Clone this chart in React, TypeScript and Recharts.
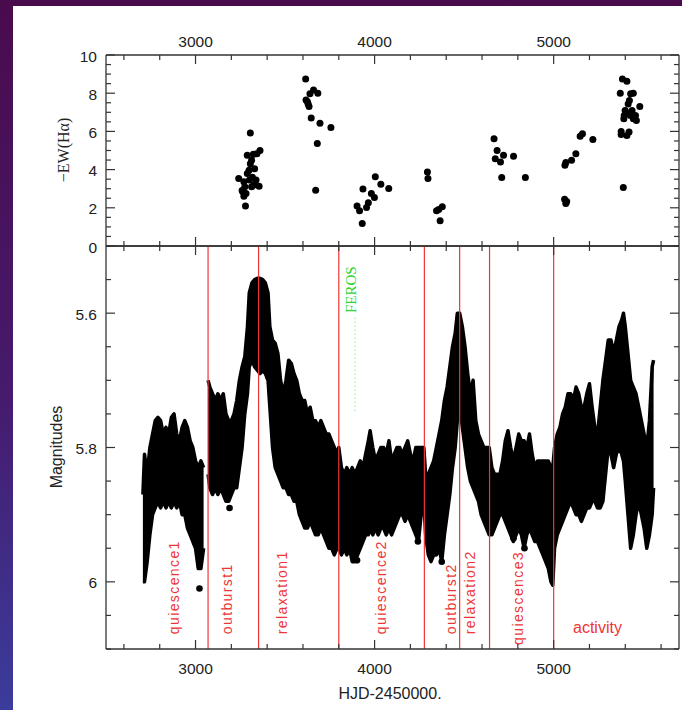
import { ComposedChart, Scatter, Area, XAxis, YAxis, ReferenceLine, ReferenceDot } from 'recharts'

// top panel: -EW(Halpha) measurements
const ewHjd = [
  3241, 3270, 3275, 3265, 3270, 3279, 3289, 3306, 3299, 3313, 3323, 3343, 3360, 3330, 3318, 3338,
  3326, 3313, 3355, 3289, 3301, 3282, 3260, 3306,
  3615, 3617, 3629, 3634, 3639, 3659, 3683, 3646, 3695, 3680, 3671, 3756, 3625,
  3902, 3916, 3931, 3935, 3955, 3965, 3982, 3999, 4004, 4035, 4079,
  4295, 4298, 4346, 4358, 4378, 4366,
  4667, 4684, 4674, 4703, 4720, 4710, 4776, 4842,
  5063, 5068, 5061, 5068, 5073, 5100, 5124, 5148, 5161, 5219,
  5389, 5372, 5384, 5409, 5377, 5377, 5409, 5421, 5394, 5399, 5409, 5428, 5445, 5430, 5445, 5423,
  5416, 5438, 5457, 5462, 5481, 5392,
]
const ewVal = [
  3.53, 3.36, 3.1, 2.83, 2.6, 2.09, 4.75, 5.91, 3.97, 4.49, 4.8, 4.83, 5.0, 4.05, 3.6, 3.45,
  3.2, 3.1, 3.13, 3.8, 3.45, 2.75, 2.9, 4.3,
  8.75, 7.65, 7.44, 7.3, 7.97, 8.17, 8.0, 6.7, 6.43, 5.36, 2.92, 6.2, 7.55,
  2.1, 1.84, 1.18, 2.99, 2.02, 2.26, 2.75, 2.54, 3.62, 3.23, 3.01,
  3.88, 3.53, 1.84, 1.91, 2.05, 1.32,
  5.62, 5.0, 4.57, 4.4, 4.75, 3.58, 4.7, 3.58,
  4.23, 4.37, 2.45, 2.23, 2.33, 4.49, 4.83, 5.74, 5.88, 5.57,
  3.06, 8.0, 8.75, 8.63, 6.0, 5.84, 5.79, 5.97, 6.83, 7.1, 6.96, 6.83, 6.66, 7.97, 8.0, 7.62,
  7.44, 7.1, 6.83, 6.57, 7.3, 6.66,
]

// bottom panel: light curve envelope (brightest / faintest magnitude at each date)
const lcHjd = [
  2706, 2715, 2730, 2745, 2760, 2775, 2790, 2805, 2820, 2835, 2850, 2865, 2880, 2895, 2910, 2925,
  2940, 2955, 2970, 2985, 3000, 3015, 3030, 3045, 3058,
  3070, 3080, 3095, 3110, 3125, 3140, 3155, 3170, 3185, 3200, 3215, 3230, 3245, 3260, 3275, 3290,
  3300, 3315, 3330, 3345, 3360, 3375, 3390, 3405, 3415, 3430, 3445, 3460, 3475, 3490, 3505, 3520,
  3535, 3550, 3565, 3580, 3595, 3610, 3625, 3640, 3655, 3670, 3685, 3700, 3715, 3730, 3745, 3760,
  3775, 3790,
  3800, 3815, 3830, 3845, 3860, 3875, 3890, 3905, 3920, 3935, 3950, 3965, 3975, 3990, 4005, 4020,
  4035, 4050, 4065, 4080, 4095, 4110, 4125, 4140, 4155, 4170, 4185, 4200, 4215, 4230, 4245, 4260,
  4275,
  4285, 4300, 4315, 4330, 4345, 4360, 4375, 4390, 4405, 4420, 4435, 4450, 4462, 4475,
  4490, 4505, 4520, 4535, 4550, 4565, 4580, 4595, 4610, 4625, 4640,
  4655, 4670, 4685, 4700, 4715, 4730, 4745, 4760, 4775, 4790, 4805, 4820, 4835, 4850, 4865, 4880,
  4895, 4910, 4925, 4940, 4955, 4970, 4985, 4995,
  5005, 5020, 5035, 5050, 5065, 5080, 5095, 5110, 5125, 5140, 5155, 5170, 5185, 5200, 5215, 5230,
  5245, 5260, 5275, 5290, 5305, 5320, 5335, 5350, 5365, 5380, 5390, 5400, 5415, 5430, 5445, 5460,
  5475, 5490, 5505, 5520, 5535, 5550, 5558,
]
const lcBright = [
  5.87, 5.81, 5.84, 5.80, 5.78, 5.76, 5.755, 5.76, 5.78, 5.77, 5.78, 5.755, 5.75, 5.78, 5.79, 5.77,
  5.76, 5.77, 5.79, 5.80, 5.82, 5.83, 5.82, 5.83, null,
  5.70, 5.71, 5.72, 5.73, 5.72, 5.73, 5.72, 5.75, 5.76, 5.76, 5.75, 5.73, 5.70, 5.68, 5.665, 5.62,
  5.57, 5.555, 5.55, 5.548, 5.548, 5.55, 5.555, 5.57, 5.62, 5.64, 5.645, 5.66, 5.70, 5.72, 5.70, 5.67,
  5.675, 5.69, 5.70, 5.72, 5.73, 5.73, 5.75, 5.74, 5.76, 5.76, 5.77, 5.76, 5.77, 5.78, 5.78, 5.79,
  5.80, 5.81,
  5.80, 5.83, 5.84, 5.83, 5.84, 5.83, 5.84, 5.83, 5.82, 5.83, 5.81, 5.79, 5.775, 5.80, 5.82, 5.81,
  5.80, 5.80, 5.81, 5.79, 5.82, 5.81, 5.80, 5.80, 5.81, 5.80, 5.79, 5.81, 5.82, 5.80, 5.80, 5.80,
  5.80,
  5.84, 5.84, 5.83, 5.82, 5.80, 5.78, 5.76, 5.73, 5.71, 5.68, 5.65, 5.63, 5.60, 5.60,
  5.62, 5.65, 5.69, 5.72, 5.70, 5.76, 5.78, 5.79, 5.80, 5.80, 5.80,
  5.83, 5.84, 5.84, 5.84, 5.82, 5.79, 5.775, 5.80, 5.82, 5.80, 5.78, 5.79, 5.79, 5.80, 5.78, 5.81,
  5.83, 5.82, 5.82, 5.82, 5.82, 5.82, 5.83, 5.83,
  5.80, 5.78, 5.77, 5.75, 5.74, 5.72, 5.72, 5.73, 5.71, 5.72, 5.74, 5.74, 5.72, 5.705, 5.74, 5.77,
  5.78, 5.74, 5.70, 5.67, 5.64, 5.64, 5.66, 5.64, 5.62, 5.61, 5.60, 5.62, 5.66, 5.70, 5.71, 5.72,
  5.74, 5.76, 5.78, 5.80, 5.76, 5.68, 5.67,
]
const lcFaint = [
  6.00, 6.00, 5.97, 5.93, 5.90, 5.89, 5.88, 5.89, 5.88, 5.89, 5.88, 5.89, 5.88, 5.89, 5.88, 5.90,
  5.90, 5.92, 5.93, 5.94, 5.95, 5.98, 5.98, 5.95, null,
  5.84, 5.86, 5.87, 5.86, 5.87, 5.86, 5.87, 5.88, 5.88, 5.87, 5.86, 5.86, 5.83, 5.80, 5.75, 5.72,
  5.68, 5.67, 5.68, 5.685, 5.69, 5.685, 5.69, 5.70, 5.74, 5.80, 5.83, 5.84, 5.85, 5.86, 5.86, 5.87,
  5.87, 5.88, 5.88, 5.90, 5.91, 5.92, 5.92, 5.91, 5.92, 5.93, 5.93, 5.92, 5.93, 5.94, 5.95, 5.95,
  5.96, 5.95,
  5.95, 5.96, 5.95, 5.96, 5.95, 5.97, 5.97, 5.96, 5.95, 5.94, 5.93, 5.93, 5.92, 5.93, 5.92, 5.93,
  5.92, 5.92, 5.93, 5.92, 5.93, 5.92, 5.91, 5.90, 5.90, 5.91, 5.90, 5.91, 5.92, 5.93, 5.94, 5.90,
  5.88,
  5.93, 5.96, 5.97, 5.96, 5.96, 5.95, 5.97, 5.93, 5.90, 5.87, 5.83, 5.80, 5.76, 5.74,
  5.77, 5.80, 5.83, 5.85, 5.86, 5.87, 5.88, 5.90, 5.91, 5.92, 5.93,
  5.93, 5.92, 5.91, 5.90, 5.90, 5.91, 5.92, 5.93, 5.94, 5.93, 5.92, 5.93, 5.95, 5.93, 5.92, 5.93,
  5.94, 5.94, 5.95, 5.96, 5.97, 5.98, 6.00, 6.005,
  5.95, 5.93, 5.92, 5.91, 5.90, 5.89, 5.88, 5.89, 5.90, 5.90, 5.91, 5.90, 5.89, 5.89, 5.88, 5.88,
  5.89, 5.89, 5.88, 5.84, 5.80, 5.81, 5.83, 5.81, 5.80, 5.81, 5.82, 5.85, 5.90, 5.95, 5.93, 5.90,
  5.88, 5.90, 5.92, 5.95, 5.93, 5.90, 5.86,
]
const outHjd = [3022, 3190, 3408, 3610, 3902, 4242, 4375, 4776, 4837]
const outMag = [6.01, 5.89, 5.695, 5.91, 5.968, 5.94, 5.97, 5.935, 5.95]

// phase boundaries and labels
const phaseLines = [3070, 3352, 3800, 4278, 4475, 4642, 5000]
const phaseNames = ['quiescence1', 'outburst1', 'relaxation1', 'quiescence2', 'outburst2', 'relaxation2', 'quiescence3']
const phaseHjd = [2905, 3202, 3509, 4063, 4457, 4562, 4830]
const phaseMag = [6.078, 6.078, 6.078, 6.078, 6.078, 6.078, 6.094]
const ferosHjd = 3890
const ferosMag = [5.607, 5.749]

const xTicks = [2600, 2800, 3000, 3200, 3400, 3600, 3800, 4000, 4200, 4400, 4600, 4800, 5000, 5200, 5400, 5600]
const xMajor = [3000, 4000, 5000]
const ewTicks = [0, 0.5, 1, 1.5, 2, 2.5, 3, 3.5, 4, 4.5, 5, 5.5, 6, 6.5, 7, 7.5, 8, 8.5, 9, 9.5, 10]
const ewMajor = [0, 2, 4, 6, 8, 10]
const magTicks = [5.5, 5.55, 5.6, 5.65, 5.7, 5.75, 5.8, 5.85, 5.9, 5.95, 6, 6.05, 6.1]
const magMajor = [5.6, 5.8, 6]

const ewData = ewHjd.map((h, i) => ({ hjd: h, ew: ewVal[i] }))
const lcData = lcHjd.map((h, i) => ({
  hjd: h,
  range: lcBright[i] === null ? null : [lcBright[i], lcFaint[i]],
}))
const outData = outHjd.map((h, i) => ({ hjd: h, mag: outMag[i] }))

const AXIS = '#333'
const TXT = '#222'
const SANS = '"Liberation Sans", Arial, sans-serif'
const RED = '#ee3535'

function xTick(dir: number, labelDy: number | null) {
  return (p: any) => {
    const v = p.payload.value
    const major = xMajor.includes(v)
    const len = major ? 9 : 5
    return (
      <g>
        <line x1={p.x} x2={p.x} y1={p.y} y2={p.y + dir * len} stroke={AXIS} strokeWidth={1.2} />
        {labelDy !== null && major && (
          <text x={p.x} y={p.y + labelDy} textAnchor="middle" dominantBaseline="central"
            fontFamily={SANS} fontSize={15.5} fill={TXT}>{v}</text>
        )}
      </g>
    )
  }
}

function yTick(dir: number, majors: number[], labels: boolean) {
  return (p: any) => {
    const v = p.payload.value
    const major = majors.some((m) => Math.abs(m - v) < 1e-6)
    const len = major ? 9 : 5
    return (
      <g>
        <line x1={p.x} x2={p.x + dir * len} y1={p.y} y2={p.y} stroke={AXIS} strokeWidth={1.2} />
        {labels && major && (
          <text x={p.x - 9} y={p.y + 1} textAnchor="end" dominantBaseline="central"
            fontFamily={SANS} fontSize={15.5} fill={TXT}>{String(v)}</text>
        )}
      </g>
    )
  }
}

// axes get a 1px box (recharts skips zero-sized axes); margins are reduced by the same pixel
const axisCommon = {
  tickSize: 0,
  tickMargin: 0,
  interval: 0 as const,
  allowDataOverflow: true,
  axisLine: { stroke: AXIS, strokeWidth: 1.3 },
}

function EwPanel() {
  return (
    <ComposedChart width={682} height={710} data={ewData}
      margin={{ top: 54, left: 105, right: 2, bottom: 463 }}
      style={{ position: 'absolute', left: 0, top: 0 }}>
      <XAxis xAxisId="t" orientation="top" type="number" dataKey="hjd" domain={[2500, 5700]} height={1}
        ticks={xTicks} tick={xTick(1, -14)} {...axisCommon} />
      <XAxis xAxisId="b" orientation="bottom" type="number" dataKey="hjd" domain={[2500, 5700]} height={1}
        ticks={xTicks} tick={xTick(-1, null)} {...axisCommon} />
      <YAxis yAxisId="l" orientation="left" type="number" dataKey="ew" domain={[0, 10]} width={1}
        ticks={ewTicks} tick={yTick(1, ewMajor, true)} {...axisCommon} />
      <YAxis yAxisId="r" orientation="right" type="number" dataKey="ew" domain={[0, 10]} width={1}
        ticks={ewTicks} tick={yTick(-1, ewMajor, false)} {...axisCommon} />
      <Scatter xAxisId="t" yAxisId="l" data={ewData} fill="#000" isAnimationActive={false}
        shape={(p: any) => <circle cx={p.cx} cy={p.cy} r={3.5} fill="#000" />} />
    </ComposedChart>
  )
}

function LightCurvePanel() {
  return (
    <ComposedChart width={682} height={710} data={lcData}
      margin={{ top: 245, left: 105, right: 2, bottom: 60 }}
      style={{ position: 'absolute', left: 0, top: 0 }}>
      <XAxis xAxisId="b" orientation="bottom" type="number" dataKey="hjd" domain={[2500, 5700]} height={1}
        ticks={xTicks} tick={xTick(-1, 19)} {...axisCommon} />
      <XAxis xAxisId="t" orientation="top" type="number" dataKey="hjd" domain={[2500, 5700]} height={1}
        ticks={xTicks} tick={xTick(1, null)} {...axisCommon} />
      <YAxis yAxisId="l" orientation="left" type="number" dataKey="mag" domain={[5.5, 6.1]} reversed width={1}
        ticks={magTicks} tick={yTick(1, magMajor, true)} {...axisCommon} />
      <YAxis yAxisId="r" orientation="right" type="number" dataKey="mag" domain={[5.5, 6.1]} reversed width={1}
        ticks={magTicks} tick={yTick(-1, magMajor, false)} {...axisCommon} />
      <Area xAxisId="b" yAxisId="l" dataKey="range" type="linear" stroke="#000" strokeWidth={3.5}
        strokeLinejoin="round" fill="#000" fillOpacity={1} dot={false} activeDot={false}
        connectNulls={false} isAnimationActive={false} />
      <Scatter xAxisId="b" yAxisId="l" data={outData} isAnimationActive={false}
        shape={(p: any) => <circle cx={p.cx} cy={p.cy} r={3.3} fill="#000" />} />
      {phaseLines.map((x) => (
        <ReferenceLine key={x} xAxisId="b" yAxisId="l" x={x} stroke={RED} strokeWidth={1.2} />
      ))}
      <ReferenceLine xAxisId="b" yAxisId="l" stroke="#6fe86f" strokeWidth={1.2} strokeDasharray="1 3"
        segment={[{ x: ferosHjd, y: ferosMag[0] }, { x: ferosHjd, y: ferosMag[1] }]} />
      <ReferenceDot xAxisId="b" yAxisId="l" x={ferosHjd + 9} y={5.5997} r={0}
        shape={(p: any) => (
          <text x={p.cx} y={p.cy} transform={`rotate(-90 ${p.cx} ${p.cy})`}
            fontFamily='"Liberation Serif", serif' fontSize={15} fill="#2fd42f">FEROS</text>
        )} />
      {phaseNames.map((n, i) => (
        <ReferenceDot key={n} xAxisId="b" yAxisId="l" x={phaseHjd[i]} y={phaseMag[i]} r={0}
          shape={(p: any) => (
            <text x={p.cx} y={p.cy} transform={`rotate(-90 ${p.cx} ${p.cy})`}
              fontFamily={SANS} fontSize={14} letterSpacing={1.4} fill={RED}>{n}</text>
          )} />
      ))}
      <ReferenceDot xAxisId="b" yAxisId="l" x={5108} y={6.076} r={0}
        shape={(p: any) => (
          <text x={p.cx} y={p.cy} fontFamily={SANS} fontSize={16} fill={RED}>activity</text>
        )} />
    </ComposedChart>
  )
}

export default function App() {
  return (
    <div style={{
      position: 'fixed', left: 0, top: 0, width: 682, height: 710, overflow: 'hidden',
      background: 'linear-gradient(180deg, #4a0b4d 0%, #461a6c 55%, #3b3c9c 100%)',
    }}>
      <div style={{ position: 'absolute', left: 13, top: 6, right: 0, bottom: 0, background: '#fff' }} />
      <EwPanel />
      <LightCurvePanel />
      <svg width={682} height={710} style={{ position: 'absolute', left: 0, top: 0, pointerEvents: 'none' }}>
        <text x={63} y={150} transform="rotate(-90 63 150)" textAnchor="middle" dominantBaseline="central"
          fontFamily='"Liberation Serif", serif' fontSize={16} fill={TXT}>−EW(Hα)</text>
        <text x={56} y={447} transform="rotate(-90 56 447)" textAnchor="middle" dominantBaseline="central"
          fontFamily={SANS} fontSize={16} fill={TXT}>Magnitudes</text>
        <text x={390} y={693} textAnchor="middle" dominantBaseline="central"
          fontFamily={SANS} fontSize={16} fill={TXT}>HJD-2450000.</text>
      </svg>
    </div>
  )
}
